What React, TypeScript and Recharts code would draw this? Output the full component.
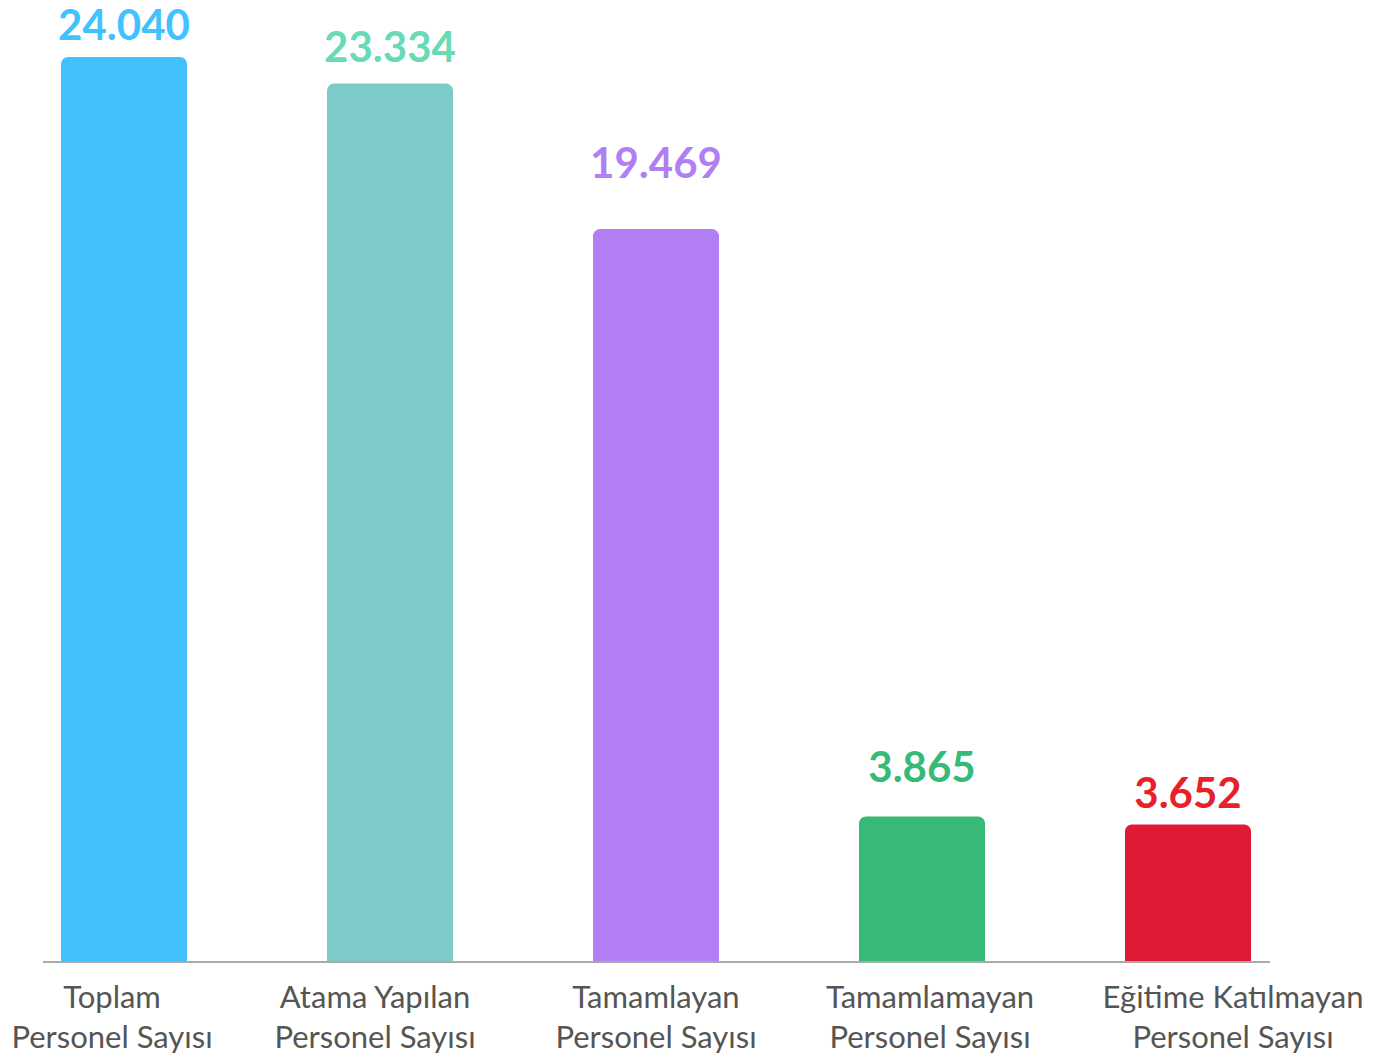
import React from 'react';
import { BarChart, Bar, XAxis, YAxis, Cell, LabelList } from 'recharts';

const categories = [
  ['Toplam', 'Personel Sayısı'],
  ['Atama Yapılan', 'Personel Sayısı'],
  ['Tamamlayan', 'Personel Sayısı'],
  ['Tamamlamayan', 'Personel Sayısı'],
  ['Eğitime Katılmayan', 'Personel Sayısı'],
];
const values = [24040, 23334, 19469, 3865, 3652];
const valueLabels = ['24.040', '23.334', '19.469', '3.865', '3.652'];

const barColors = ['#42C1FF', '#7DCBC8', '#B17EF4', '#37B977', '#DE1A34'];
const labelColors = ['#42C1FF', '#68DAB4', '#B17EF4', '#37B977', '#E8202A'];
const labelGaps = [17, 22, 51, 34, 17];
const tickShift = [-12, -15, 0, 8, 45];

const data = values.map((v, i) => ({
  key: categories[i].join(' '),
  idx: i,
  value: v,
}));

const FONT = 'Lato, "Open Sans", sans-serif';

const Tick = (props: any) => {
  const { x, y, payload } = props;
  const i = payload.index;
  const lines = categories[i];
  return (
    <g transform={`translate(${x + tickShift[i]},${y})`}>
      {lines.map((l, k) => (
        <text
          key={k}
          x={0}
          y={38 + k * 40}
          textAnchor="middle"
          fill="#555555"
          fontFamily={FONT}
          fontSize={31}
        >
          {l}
        </text>
      ))}
    </g>
  );
};

const ValueLabel = (props: any) => {
  const { x, y, width, index } = props;
  return (
    <text
      x={x + width / 2}
      y={y - labelGaps[index]}
      textAnchor="middle"
      fill={labelColors[index]}
      fontFamily={FONT}
      fontWeight={700}
      fontSize={42}
    >
      {valueLabels[index]}
    </text>
  );
};

export default function App() {
  return (
    <div style={{ position: 'absolute', left: 0, top: 0, width: 1400, height: 1059, background: '#fff' }}>
      <BarChart
        width={1400}
        height={1059}
        data={data}
        margin={{ top: 57, right: 130, bottom: 0, left: 43 }}
      >
        <XAxis
          dataKey="key"
          padding={{ left: -52, right: -51 }}
          axisLine={{ stroke: '#AAAAAA', strokeWidth: 2 }}
          tickLine={false}
          interval={0}
          tick={<Tick />}
          height={97}
        />
        <YAxis hide domain={[0, 24040]} />
        <Bar dataKey="value" barSize={126} radius={[7, 7, 0, 0]} isAnimationActive={false}>
          {data.map((d, i) => (
            <Cell key={i} fill={barColors[i]} />
          ))}
          <LabelList dataKey="value" content={<ValueLabel />} />
        </Bar>
      </BarChart>
    </div>
  );
}
